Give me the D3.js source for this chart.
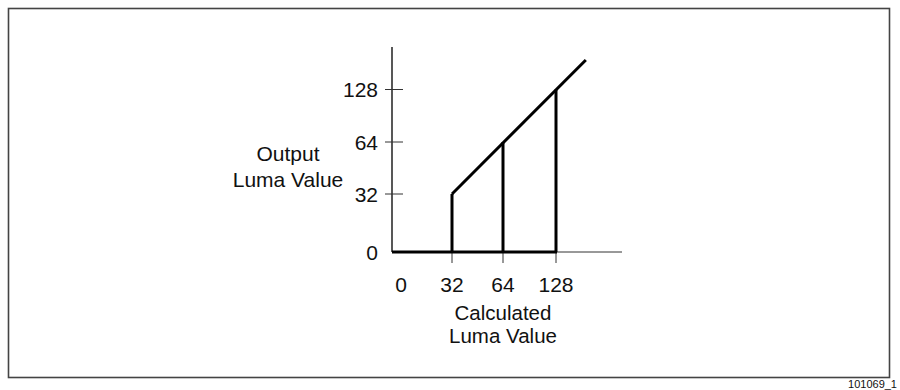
<!DOCTYPE html>
<html><head><meta charset="utf-8">
<script src="https://cdn.jsdelivr.net/npm/d3@7"></script>
<style>body{margin:0;background:#fff}svg{display:block}text{font-family:"Liberation Sans",Arial,sans-serif;fill:#111}</style>
</head><body>
<script>
const tickValues = [0, 32, 64, 128];
const inputValues = [32, 64, 128];          // vertical drop lines (calculated luma)
const curveInput = [32, 164];               // linear part of transfer function
const curveOutput = [32, 164];
const xTitle = ["Calculated", "Luma Value"];
const yTitle = ["Output", "Luma Value"];
const figureId = "101069_1";

const W = 900, H = 390;
const svg = d3.select("body").append("svg").attr("width", W).attr("height", H);

// frame
svg.append("rect").attr("x", 8.5).attr("y", 8.5).attr("width", 881).attr("height", 369)
  .attr("fill", "none").attr("stroke", "#444").attr("stroke-width", 1.6);
svg.append("text").attr("x", 897).attr("y", 388).attr("text-anchor", "end")
  .style("font-size", "11px").text(figureId);

// non-linear (piecewise) scales: tick values equally spaced
const x = d3.scaleLinear().domain(tickValues).range([401, 452, 503, 556]);
const y = d3.scaleLinear().domain(tickValues).range([252, 194, 142, 89.5]);
const axisX = 392, axisY = 252;

// y axis line
svg.append("line").attr("x1", axisX).attr("x2", axisX).attr("y1", 47).attr("y2", axisY)
  .attr("stroke", "#111").attr("stroke-width", 1.4);
// x axis line (thin)
svg.append("line").attr("x1", axisX).attr("x2", 622).attr("y1", axisY).attr("y2", axisY)
  .attr("stroke", "#333").attr("stroke-width", 1);

// y ticks
const yt = svg.append("g");
tickValues.forEach(v => {
  if (v > 0) {
    yt.append("line").attr("x1", 385).attr("x2", 403).attr("y1", y(v)).attr("y2", y(v))
      .attr("stroke", "#333").attr("stroke-width", 1);
  }
  yt.append("text").attr("x", 378).attr("y", y(v)).attr("dy", "0.36em")
    .attr("text-anchor", "end").style("font-size", "21px").text(v);
});
// x ticks
const xt = svg.append("g");
tickValues.forEach(v => {
  if (v > 0) {
    xt.append("line").attr("x1", x(v)).attr("x2", x(v)).attr("y1", axisY).attr("y2", 263)
      .attr("stroke", "#333").attr("stroke-width", 1);
  }
  xt.append("text").attr("x", x(v)).attr("y", 292)
    .attr("text-anchor", "middle").style("font-size", "21px").text(v);
});

// axis titles
yTitle.forEach((t, i) => svg.append("text").attr("x", 288).attr("y", 161 + i * 26)
  .attr("text-anchor", "middle").style("font-size", "21px").text(t));
xTitle.forEach((t, i) => svg.append("text").attr("x", 503).attr("y", 319.5 + i * 23)
  .attr("text-anchor", "middle").style("font-size", "20.5px").text(t));

// thick baseline (output 0 region)
svg.append("line").attr("x1", axisX).attr("x2", x(128) + 1).attr("y1", axisY).attr("y2", axisY)
  .attr("stroke", "#000").attr("stroke-width", 3);

// vertical drop lines
svg.selectAll(".drop").data(inputValues).join("line")
  .attr("x1", d => x(d)).attr("x2", d => x(d))
  .attr("y1", axisY).attr("y2", d => y(d))
  .attr("stroke", "#000").attr("stroke-width", 3);

// diagonal transfer line
const pts = curveInput.map((d, i) => [x(d), y(curveOutput[i])]);
svg.append("path").attr("d", d3.line()(pts)).attr("fill", "none")
  .attr("stroke", "#000").attr("stroke-width", 3).attr("stroke-linecap", "butt");
</script>
</body></html>
